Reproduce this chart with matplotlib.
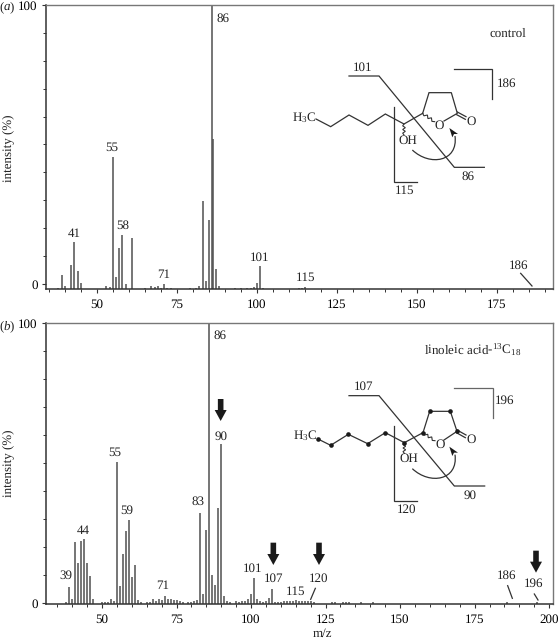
import numpy as np
import matplotlib
matplotlib.use('Agg')
import matplotlib.pyplot as plt
from matplotlib.patches import PathPatch, Polygon
from matplotlib.path import Path

plt.rcParams['font.family'] = ['Liberation Serif', 'DejaVu Serif']
plt.rcParams['mathtext.fontset'] = 'custom'
plt.rcParams['mathtext.rm'] = 'Liberation Serif'
plt.rcParams['mathtext.it'] = 'Liberation Serif:italic'
plt.rcParams['text.hinting'] = 'none'
plt.rcParams['text.hinting_factor'] = 1

# control spectrum (small peaks sit below the "0" tick, on the axis line)
mz_a = [38, 39, 40, 42, 43, 44, 45, 53, 54, 55, 56, 57, 58, 59, 61, 65, 67, 68, 69, 70, 71, 72, 73,
        79, 81, 82, 83, 84, 85, 86, 86.3, 87.2, 88, 93, 95, 97, 98, 99, 100, 101, 102,
        113, 114, 115]
int_a = [-1.6, 3.2, -0.7, 6.8, 14.9, 4.7, 0.5, -0.6, -1.1, 45.4, 2.5, 12.8, 17.6, 0, 16.4, -1.5, -0.7, -1.2, -0.7, -1.4, 0, -1.4, -1.6,
         -1.5, -1.4, -0.8, 29.7, 1.0, 22.9, 100, 52, 5.4, -0.8, -1.6, -1.6, -1.5, -1.4, -1.2, 0.5, 6.5, -1.5,
         -1.3, -1.3, -1.0]

# 13C labelled spectrum
mz_b = [38, 39, 40, 41, 42, 43, 44, 45, 46, 47, 50, 51, 52, 53, 54, 55, 56, 57, 58, 59, 60, 61, 62, 63,
        65, 66, 67, 68, 69, 70, 71, 72, 73, 74, 75, 76, 77, 79, 80, 81, 82, 83, 84, 85, 86, 87, 88, 89, 90,
        91, 92, 93, 95, 96, 97, 98, 99, 100, 101, 102, 103, 104, 105, 106, 107, 108, 109,
        110, 111, 112, 113, 114, 115, 116, 117, 118, 119, 120, 121, 127, 128, 131, 132, 133, 137, 141, 186, 196]
int_b = [0.2, 5.7, 1.5, 21.6, 14.4, 22.0, 22.7, 14.4, 9.5, 1.5, 0.4, 0.2, 0.4, 1.5, 0.7, 50.4, 6.0, 17.4, 25.8, 29.6, 9.3, 13.7, 1.0, 0.2,
         0.2, 0.3, 1.5, 0.7, 1.5, 1.0, 2.5, 1.5, 1.4, 1.0, 1.0, 0.7, 0.3, 0.4, 0.3, 0.7, 1.0, 32.1, 3.3, 26.2, 100, 9.8, 6.3, 34.0, 56.8,
         2.4, 0.6, 0.2, 0.5, 0.3, 0.5, 0.6, 1.5, 3.1, 8.9, 1.5, 0.7, 0.3, 0.8, 1.7, 4.9, 0.3, 0.2,
         0.3, 0.5, 0.7, 0.5, 0.8, 0.9, 0.6, 0.5, 0.7, 0.6, 0.5, 0.3, 0.3, 0.3, 0.3, 0.4, 0.3, 0.2, 0.2, 0.3, 0.2]

x_major_a = [50, 75, 100, 125, 150, 175]
x_major_b = [50, 75, 100, 125, 150, 175, 200]
y_labels = [0, 100]

W, H = 559, 640
fig = plt.figure(figsize=(W / 100, H / 100), dpi=100)


def make_axes(top, bottom, xlim, ylim, mz, vals, majors):
    ax = fig.add_axes([46 / W, 1 - bottom / H, (553 - 46) / W, (bottom - top) / H])
    ax.vlines(mz, ylim[0], vals, color='#505050', lw=1.1)
    ax.set_xlim(*xlim)
    ax.set_ylim(*ylim)
    ax.set_xticks(majors)
    ax.set_xticks(np.arange(35, xlim[1], 5), minor=True)
    ax.set_yticks(y_labels)
    ax.set_yticks(np.arange(0, 101, 10), minor=True)
    ax.tick_params(which='major', length=3, width=0.8, color='#333333', labelsize=9, pad=4)
    ax.tick_params(which='minor', length=2, width=0.7, color='#333333')
    ax.tick_params(axis='y', which='major', pad=3)
    for side in ['top', 'right']:
        ax.spines[side].set_color('#777777')
        ax.spines[side].set_linewidth(1.0)
    for side in ['left', 'bottom']:
        ax.spines[side].set_color('#333333')
        ax.spines[side].set_linewidth(1.1)
    return ax


make_axes(5, 289, (34.1, 192.5), (-1.8, 100), mz_a, int_a, x_major_a)
make_axes(323, 604, (31.2, 201.3), (-0.4, 100), mz_b, int_b, x_major_b)

# overlay in image pixels for the labels and the structures
ov = fig.add_axes([0, 0, 1, 1])
ov.set_xlim(0, W)
ov.set_ylim(H, 0)
ov.axis('off')
ov.patch.set_alpha(0)

LINE = '#333333'


def label(x, y, s, size=9, **kw):
    ov.text(x, y, s, fontsize=size, ha='center', va='center', color='#222222', **kw)


def crop(points, ox, oy):
    return [(ox + px / 3, oy + py / 3) for px, py in points]


def poly(points, ox, oy, lw=0.9, color=LINE):
    pts = crop(points, ox, oy)
    ov.plot([p[0] for p in pts], [p[1] for p in pts], color=color, lw=lw, solid_joinstyle='miter')


def wavy(p0, p1, ox, oy, n=6, amp=4):
    p0, p1 = np.array(p0, float), np.array(p1, float)
    d = p1 - p0
    nrm = np.array([-d[1], d[0]]) / np.hypot(*d)
    pts = [p0 + d * i / n + nrm * amp * (i % 2 * 2 - 1) * (0 < i < n) for i in range(n + 1)]
    poly(pts, ox, oy, lw=0.8)


def block_arrow(x, y0, y1):
    # thick down arrow in image pixels
    hw, sw = 6, 2.8
    neck = y1 - 11
    ov.add_patch(Polygon([(x - sw, y0), (x + sw, y0), (x + sw, neck), (x + hw, neck), (x, y1),
                          (x - hw, neck), (x - sw, neck)], closed=True, fc='#1a1a1a', ec='none'))


def curved_arrow(ox, oy, shift=0):
    verts = crop([(397, 450 + shift), (450, 500 + shift), (535, 485 + shift), (525, 408 + shift)], ox, oy)
    ov.add_patch(PathPatch(Path(verts, [Path.MOVETO, Path.CURVE4, Path.CURVE4, Path.CURVE4]),
                           fc='none', ec=LINE, lw=0.9))
    ov.add_patch(Polygon(crop([(508, 384 + shift), (534, 402 + shift), (522, 402 + shift), (517, 412 + shift)], ox, oy),
                         closed=True, fc='#1a1a1a', ec='none'))


# panel a peak labels
label(74, 234, '41')
label(112, 148, '55')
label(123, 226, '58')
label(164, 275, '71')
label(223, 19, '86')
label(260, 258, '101')
label(306, 278, '115')
label(519, 266, '186')
poly([(722, 820), (756, 858)], 280, 0)

# panel a text
label(7, 7, r'($\it{a}$)')
label(8, 148, 'intensity (%)', rotation=90)
label(508, 34, 'control')

# panel a structure
ox, oy = 280, 0
label(ox + 73 / 3, oy + 354 / 3, r'H$_3$C')
poly([(108, 357), (152, 380), (207, 345), (264, 376), (316, 342), (372, 372), (428, 340)], ox, oy)
poly([(428, 340), (447, 278), (514, 278), (532, 340), (492, 363)], ox, oy)
poly([(532, 336), (558, 350)], ox, oy)
poly([(530, 344), (556, 358)], ox, oy)
wavy((428, 340), (464, 365), ox, oy)
wavy((372, 372), (372, 405), ox, oy)
label(ox + 478 / 3, oy + 377 / 3, 'O')
label(ox + 572 / 3, oy + 365 / 3, 'O')
label(ox + 384 / 3, oy + 421 / 3, 'OH')
poly([(207, 228), (297, 228), (523, 502), (613, 502)], ox, oy)
poly([(523, 207), (637, 207), (637, 298)], ox, oy)
poly([(342, 322), (342, 547), (412, 547)], ox, oy)
label(ox + 247 / 3, oy + 203 / 3, '101')
label(ox + 565 / 3, oy + 530 / 3, '86')
label(ox + 680 / 3, oy + 250 / 3, '186')
label(ox + 375 / 3, oy + 573 / 3, '115')
curved_arrow(ox, oy)

# panel b peak labels
oy = 320
label(197 / 3, oy + 767 / 3, '39')
label(250 / 3, oy + 634 / 3, '44')
label(344 / 3, oy + 398 / 3, '55')
label(380 / 3, oy + 572 / 3, '59')
label(487 / 3, oy + 797 / 3, '71')
label(594 / 3, oy + 545 / 3, '83')
label(659 / 3, oy + 46 / 3, '86')
label(662 / 3, oy + 349 / 3, '90')
label(759 / 3, oy + 747 / 3, '101')
label(820 / 3, oy + 775 / 3, '107')
label(ox + 47 / 3, oy + 815 / 3, '115')
label(ox + 115 / 3, oy + 777 / 3, '120')
label(ox + 680 / 3, oy + 768 / 3, '186')
label(ox + 762 / 3, oy + 792 / 3, '196')
poly([(92, 838), (106, 805)], ox, oy)
poly([(683, 797), (697, 835)], ox, oy)
poly([(763, 822), (774, 840)], ox, oy)

block_arrow(662 / 3, oy + 237 / 3, oy + 303 / 3)
block_arrow(820 / 3, oy + 668 / 3, oy + 735 / 3)
block_arrow(ox + 117 / 3, oy + 668 / 3, oy + 735 / 3)
block_arrow(ox + 768 / 3, oy + 692 / 3, oy + 758 / 3)

# panel b text
label(7, oy + 6, r'($\it{b}$)')
label(8, oy + 143, 'intensity (%)', rotation=90)
label(ox + 578 / 3, oy + 90 / 3, r'linoleic acid-$^{13}$C$_{18}$')
label(322, 634, 'm/z')

# panel b structure
chain_b = [(114, 357), (152, 376), (205, 343), (263, 371), (316, 338), (373, 368), (429, 338)]
ring_b = [(429, 338), (449, 274), (511, 274), (531, 334)]
label(ox + 75 / 3, oy + 348 / 3, r'H$_3$C')
poly(chain_b, ox, oy)
poly(ring_b + [(492, 360)], ox, oy)
poly([(531, 330), (558, 345)], ox, oy)
poly([(529, 338), (556, 353)], ox, oy)
wavy((429, 338), (465, 362), ox, oy)
wavy((373, 368), (373, 400), ox, oy)
dots = crop(chain_b + ring_b[1:], ox, oy)
ov.scatter([p[0] for p in dots], [p[1] for p in dots], s=11, color='#1a1a1a', linewidths=0, zorder=3)
label(ox + 480 / 3, oy + 373 / 3, 'O')
label(ox + 572 / 3, oy + 358 / 3, 'O')
label(ox + 386 / 3, oy + 415 / 3, 'OH')
poly([(207, 227), (297, 227), (523, 498), (614, 498)], ox, oy)
poly([(523, 203), (638, 203), (638, 295)], ox, oy, color='#666666')
poly([(342, 319), (342, 544), (412, 544)], ox, oy)
label(ox + 251 / 3, oy + 200 / 3, '107')
label(ox + 569 / 3, oy + 527 / 3, '90')
label(ox + 674 / 3, oy + 242 / 3, '196')
label(ox + 380 / 3, oy + 568 / 3, '120')
curved_arrow(ox, oy, shift=-4)

fig.savefig('out.png', dpi=100)
